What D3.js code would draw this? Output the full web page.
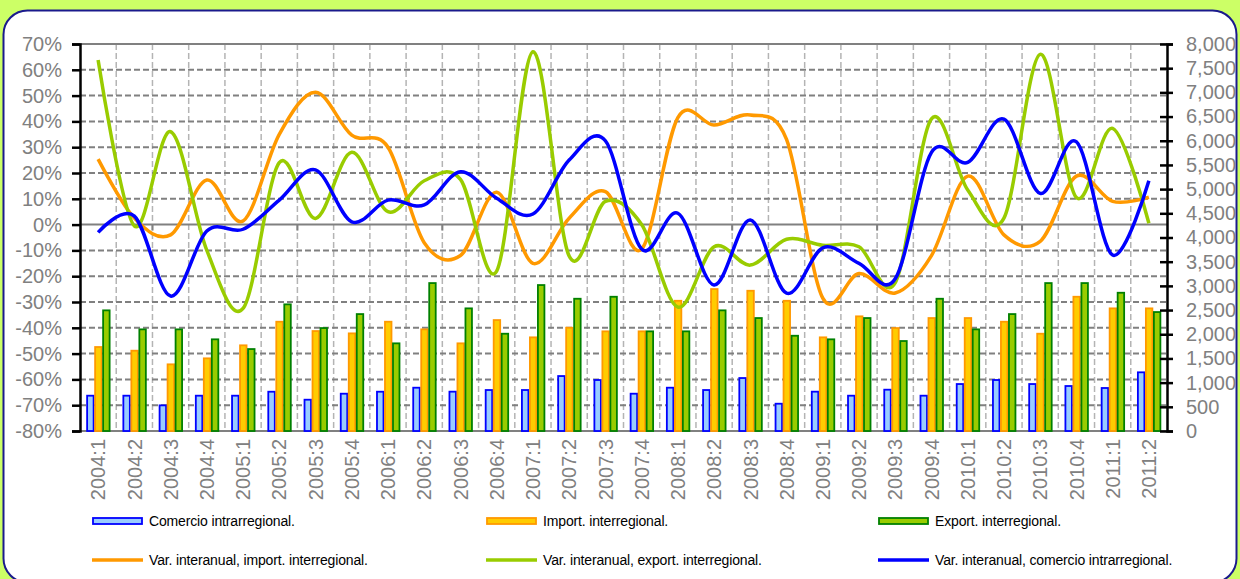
<!DOCTYPE html>
<html>
<head>
<meta charset="utf-8">
<script src="https://cdn.jsdelivr.net/npm/d3@7"></script>
<style>
  html, body { margin: 0; padding: 0; background: #ccff66; }
  svg { display: block; font-family: Arial, "Liberation Sans", sans-serif; }
</style>
</head>
<body>
<div id="viscontainer"></div>
<script>
const quarters = [
  "2004:1", "2004:2", "2004:3", "2004:4", "2005:1", "2005:2", "2005:3", "2005:4",
  "2006:1", "2006:2", "2006:3", "2006:4", "2007:1", "2007:2", "2007:3", "2007:4",
  "2008:1", "2008:2", "2008:3", "2008:4", "2009:1", "2009:2", "2009:3", "2009:4",
  "2010:1", "2010:2", "2010:3", "2010:4", "2011:1", "2011:2",
];

// bars, right axis
const intraTrade = [730, 730, 530, 730, 730, 812, 647, 771, 812, 895, 813, 847, 847, 1136, 1054,
  771, 895, 847, 1095, 564, 813, 730, 854, 730, 971, 1054, 971, 930, 889, 1213];
const importInter = [1736, 1660, 1378, 1502, 1771, 2259, 2066, 2018, 2259, 2101, 1812, 2293, 1936, 2135, 2060,
  2060, 2692, 2934, 2899, 2692, 1936, 2370, 2128, 2335, 2335, 2259, 2011, 2775, 2535, 2535];
const exportInter = [2494, 2101, 2101, 1895, 1694, 2618, 2128, 2417, 1812, 3058, 2535, 2011, 3017, 2734, 2775,
  2060, 2060, 2494, 2335, 1969, 1895, 2335, 1860, 2734, 2101, 2417, 3058, 3058, 2858, 2459];

// lines, left axis (%)
const varImport = [25.4, 2.5, -4, 17.3, 1.4, 35, 51.3, 34.7, 30, -7, -12, 12.5, -15, 2.5, 12.8,
  -9.5, 41.5, 38.6, 42.5, 33, -28.5, -19, -26.5, -12, 18.8, -4, -6.5, 18.8, 9, 10.6];
const varExport = [63.8, -0.5, 36, -10, -32.5, 24, 2.4, 28, 5, 17, 17.5, -18, 67, -12.2, 9,
  0, -32, -8.6, -15.7, -5.7, -8, -8.6, -22.5, 41, 13.4, 2.5, 66, 10.5, 37.3, 0.5];
const varIntra = [-3, 3.3, -27.7, -2.5, -1.8, 9.5, 21.2, 1.1, 9.5, 7.6, 20.5, 10.2, 4.1, 25, 32.5,
  -9.5, 4.4, -23.4, 1.8, -26.6, -9, -15, -21, 28, 24.1, 40.9, 12.1, 32.1, -11.8, 17];

const pctTicks = [70, 60, 50, 40, 30, 20, 10, 0, -10, -20, -30, -40, -50, -60, -70, -80];
const valTicks = d3.range(0, 8001, 500);

const barSeries = [
  { name: "Comercio intrarregional.", values: intraTrade, fill: "#99ccff", stroke: "#0000ff" },
  { name: "Import. interregional.", values: importInter, fill: "#ffcc00", stroke: "#ff9900" },
  { name: "Export. interregional.", values: exportInter, fill: "#99cc00", stroke: "#008000" },
];
const lineSeries = [
  { name: "Var. interanual, import. interregional.", values: varImport, color: "#ff9900" },
  { name: "Var. interanual, export. interregional.", values: varExport, color: "#99cc00" },
  { name: "Var. interanual, comercio intrarregional.", values: varIntra, color: "#0000ff" },
];

function makeVis() {
  const width = 1240;
  const height = 579;
  const marginTop = 44;
  const marginBottom = 148;
  const marginLeft = 80;
  const marginRight = 73;

  const svg = d3.create("svg").attr("width", width).attr("height", height);
  viscontainer.append(svg.node());

  svg.append("rect").attr("width", width).attr("height", height).attr("fill", "#ccff66");
  svg.append("rect")
    .attr("x", 3.5).attr("y", 10.5)
    .attr("width", width - 7).attr("height", 572)
    .attr("rx", 24)
    .attr("fill", "#ffffff")
    .attr("stroke", "#1a1a8c")
    .attr("stroke-width", 2);

  const x = d3.scaleBand()
    .domain(quarters)
    .range([marginLeft, width - marginRight]);
  const xInner = d3.scaleBand()
    .domain(barSeries.map((d) => d.name))
    .range([0, 24]);
  const yPct = d3.scaleLinear()
    .domain([-80, 70])
    .range([height - marginBottom, marginTop]);
  const yVal = d3.scaleLinear()
    .domain([0, 8000])
    .range([height - marginBottom, marginTop]);

  const x0 = marginLeft;
  const x1 = width - marginRight;

  // grid
  const grid = svg.append("g");
  grid.selectAll("line.v")
    .data(quarters.slice(1))
    .join("line")
    .attr("x1", (d) => x(d)).attr("x2", (d) => x(d))
    .attr("y1", marginTop).attr("y2", height - marginBottom)
    .attr("stroke", "#b4b4b4")
    .attr("stroke-width", 1.5)
    .attr("stroke-dasharray", "6,3");
  grid.selectAll("line.h")
    .data(pctTicks.filter((d) => d !== 0 && d !== 70 && d !== -80))
    .join("line")
    .attr("x1", x0).attr("x2", x1)
    .attr("y1", (d) => yPct(d)).attr("y2", (d) => yPct(d))
    .attr("stroke", "#808080")
    .attr("stroke-width", 2)
    .attr("stroke-dasharray", "6,3");
  [70, -80].forEach((v) => {
    grid.append("line")
      .attr("x1", x0).attr("x2", x1)
      .attr("y1", yPct(v)).attr("y2", yPct(v))
      .attr("stroke", "#808080").attr("stroke-width", 2);
  });

  // bars
  barSeries.forEach((s) => {
    svg.append("g")
      .selectAll("rect")
      .data(s.values)
      .join("rect")
      .attr("x", (d, i) => x(quarters[i]) + x.bandwidth() / 2 - 12 + xInner(s.name) + 1)
      .attr("y", (d) => yVal(d))
      .attr("width", xInner.bandwidth() - 1.5)
      .attr("height", (d) => yVal(0) - yVal(d))
      .attr("fill", s.fill)
      .attr("stroke", s.stroke)
      .attr("stroke-width", 1.8);
  });

  // zero line with category ticks
  svg.append("line")
    .attr("x1", x0).attr("x2", x1)
    .attr("y1", yPct(0)).attr("y2", yPct(0))
    .attr("stroke", "#808080").attr("stroke-width", 2);
  svg.append("g")
    .selectAll("line")
    .data(quarters.filter((d, i) => i % 4 === 2))
    .join("line")
    .attr("x1", (d) => x(d)).attr("x2", (d) => x(d))
    .attr("y1", yPct(0)).attr("y2", yPct(0) + 6)
    .attr("stroke", "#808080").attr("stroke-width", 2);
  svg.append("line")
    .attr("x1", x1).attr("x2", x1 + 1)
    .attr("y1", yPct(0)).attr("y2", yPct(0))
    .attr("stroke", "#808080").attr("stroke-width", 2);

  // lines
  const line = d3.line()
    .x((d, i) => x(quarters[i]) + x.bandwidth() / 2)
    .y((d) => yPct(d))
    .curve(d3.curveCardinal.tension(0));
  lineSeries.forEach((s) => {
    svg.append("path")
      .attr("d", line(s.values))
      .attr("fill", "none")
      .attr("stroke", s.color)
      .attr("stroke-width", 3.5)
      .attr("stroke-linejoin", "round");
  });

  // axes
  const leftAxis = svg.append("g")
    .attr("transform", `translate(${x0}, 0)`)
    .call(d3.axisLeft(yPct).tickValues(pctTicks).tickFormat((d) => d + "%").tickSize(8).tickPadding(10));
  const rightAxis = svg.append("g")
    .attr("transform", `translate(${x1}, 0)`)
    .call(d3.axisRight(yVal).tickValues(valTicks).tickFormat(d3.format(",")).tickSize(6).tickPadding(13));
  rightAxis.selectAll(".tick line").attr("x1", -7);
  [leftAxis, rightAxis].forEach((g) => {
    g.select(".domain").attr("stroke", "#000").attr("stroke-width", 2.5);
    g.selectAll(".tick line").attr("stroke", "#000").attr("stroke-width", 2.5);
    g.selectAll(".tick text")
      .attr("fill", "#808080")
      .style("font-size", "20px")
      .style("font-family", "Arial, 'Liberation Sans', sans-serif");
  });

  // category labels
  svg.append("g")
    .selectAll("text")
    .data(quarters)
    .join("text")
    .attr("transform", (d) => `translate(${x(d) + x.bandwidth() / 2}, ${height - marginBottom + 8}) rotate(-90)`)
    .attr("text-anchor", "end")
    .attr("dy", "0.36em")
    .attr("fill", "#808080")
    .style("font-size", "20px")
    .text((d) => d);

  // legend
  const legendX = [93, 487, 879];
  const legend = svg.append("g").style("font-size", "14px");
  barSeries.forEach((s, i) => {
    legend.append("rect")
      .attr("x", legendX[i]).attr("y", 518)
      .attr("width", 49).attr("height", 6)
      .attr("fill", s.fill).attr("stroke", s.stroke).attr("stroke-width", 1.8);
    legend.append("text")
      .attr("x", legendX[i] + 56).attr("y", 526)
      .attr("fill", "#000")
      .style("letter-spacing", "-0.15px")
      .text(s.name);
  });
  lineSeries.forEach((s, i) => {
    legend.append("line")
      .attr("x1", legendX[i] - 1).attr("x2", legendX[i] + 50)
      .attr("y1", 560).attr("y2", 560)
      .attr("stroke", s.color).attr("stroke-width", 3.5);
    legend.append("text")
      .attr("x", legendX[i] + 56).attr("y", 564.5)
      .attr("fill", "#000")
      .style("letter-spacing", "-0.15px")
      .text(s.name);
  });
}

makeVis();
</script>
</body>
</html>
